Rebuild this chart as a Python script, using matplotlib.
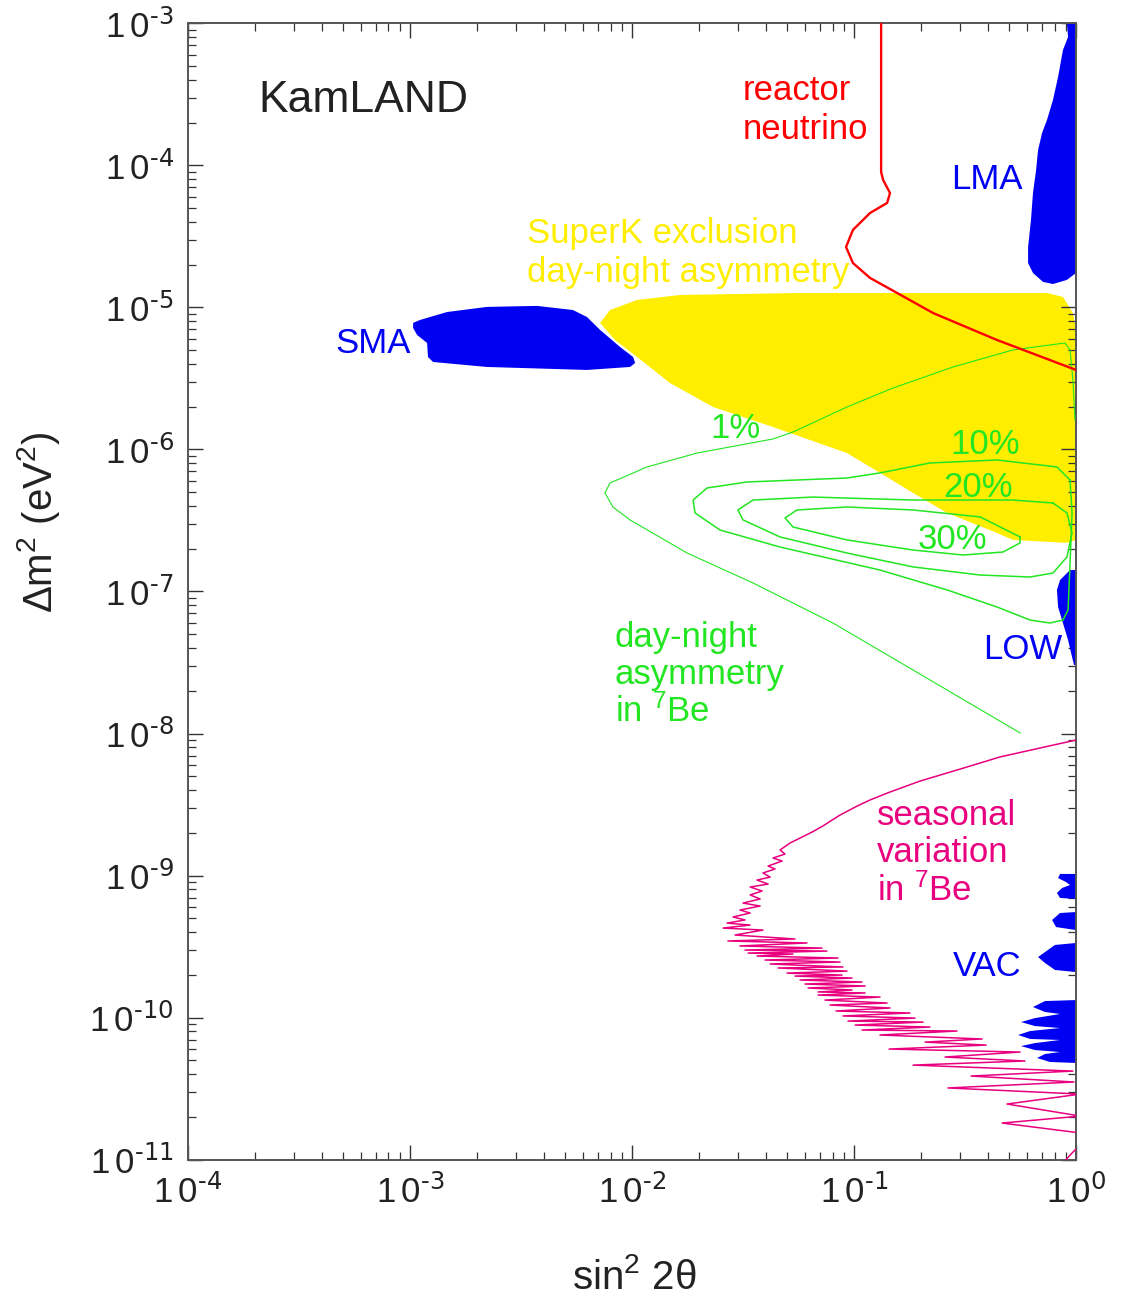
import numpy as np
import matplotlib.pyplot as plt

plt.rcParams['font.family'] = ['Liberation Sans', 'DejaVu Sans']
plt.rcParams['mathtext.default'] = 'regular'

# all shapes as (log10 sin^2 2theta, log10 dm^2) pairs
superk_excl = [(-2.144, -5.109), (-2.099, -5.018), (-1.977, -4.947), (-1.784, -4.912),
               (-1.243, -4.898), (-0.131, -4.898), (-0.059, -4.926), (-0.014, -5.039),
               (0.0, -5.158), (0.0, -6.637), (-0.041, -6.658), (-0.284, -6.637),
               (-0.356, -6.588), (-0.581, -6.447), (-0.734, -6.306), (-0.883, -6.165),
               (-1.032, -6.025), (-1.365, -5.842), (-1.635, -5.701), (-1.829, -5.532),
               (-1.977, -5.349), (-2.077, -5.229)]

sma = [(-2.986, -5.109), (-2.955, -5.088), (-2.833, -5.032), (-2.653, -4.996),
       (-2.428, -4.989), (-2.266, -5.018), (-2.203, -5.067), (-2.144, -5.158),
       (-2.054, -5.278), (-1.995, -5.349), (-1.986, -5.391), (-2.009, -5.419),
       (-2.203, -5.440), (-2.653, -5.419), (-2.896, -5.384), (-2.919, -5.349),
       (-2.923, -5.250), (-2.968, -5.194), (-2.986, -5.144)]

lma = [(-0.041, -3.0), (-0.036, -3.095), (-0.059, -3.187), (-0.081, -3.377),
       (-0.104, -3.539), (-0.131, -3.680), (-0.153, -3.771), (-0.171, -3.891),
       (-0.180, -4.032), (-0.194, -4.194), (-0.203, -4.384), (-0.216, -4.574),
       (-0.216, -4.687), (-0.194, -4.757), (-0.149, -4.820), (-0.104, -4.835),
       (-0.041, -4.806), (0.0, -4.757), (0.0, -3.0)]

low = [(-0.027, -6.849), (-0.072, -6.919), (-0.086, -6.989), (-0.081, -7.109),
       (-0.059, -7.222), (-0.036, -7.342), (-0.018, -7.461), (-0.009, -7.518),
       (0.0, -7.518), (0.0, -6.849)]

vac = [
    [(0.0, -8.989), (-0.072, -8.989), (-0.081, -9.018), (-0.045, -9.046), (-0.027, -9.067),
     (-0.063, -9.088), (-0.086, -9.123), (-0.072, -9.158), (0.0, -9.165)],
    [(0.0, -9.257), (-0.072, -9.264), (-0.108, -9.313), (-0.090, -9.363), (0.0, -9.384)],
    [(0.0, -9.475), (-0.095, -9.489), (-0.140, -9.539), (-0.171, -9.574), (-0.140, -9.616),
     (-0.095, -9.665), (0.0, -9.680)],
    [(0.0, -9.877), (-0.140, -9.884), (-0.194, -9.926), (-0.140, -9.961), (-0.072, -9.975),
     (-0.185, -10.004), (-0.248, -10.032), (-0.185, -10.060), (-0.072, -10.074),
     (-0.207, -10.095), (-0.261, -10.123), (-0.207, -10.151), (-0.072, -10.158),
     (-0.185, -10.180), (-0.248, -10.201), (-0.185, -10.229), (-0.072, -10.243),
     (-0.140, -10.257), (-0.176, -10.285), (-0.117, -10.313), (0.0, -10.320)],
]

reactor = [(-0.878, -3.0), (-0.878, -4.046), (-0.869, -4.102), (-0.838, -4.194),
           (-0.851, -4.264), (-0.928, -4.335), (-1.005, -4.454), (-1.036, -4.574),
           (-1.005, -4.687), (-0.928, -4.792), (-0.806, -4.898), (-0.644, -5.039),
           (-0.464, -5.158), (-0.356, -5.229), (0.0, -5.44)]

dn_1 = [(-0.005, -5.792), (-0.014, -5.511), (-0.027, -5.299), (-0.050, -5.250),
        (-0.284, -5.299), (-0.554, -5.419), (-0.824, -5.567), (-1.032, -5.701),
        (-1.275, -5.877), (-1.365, -5.926), (-1.707, -6.025), (-1.932, -6.123),
        (-2.099, -6.236), (-2.122, -6.306), (-2.086, -6.405), (-2.009, -6.496),
        (-1.752, -6.729), (-1.455, -6.940), (-1.095, -7.222), (-0.734, -7.553),
        (-0.252, -7.996)]
dn_10 = [(-0.027, -6.215), (-0.086, -6.123), (-0.356, -6.074), (-0.658, -6.095),
         (-0.883, -6.165), (-1.032, -6.201), (-1.482, -6.229), (-1.662, -6.271),
         (-1.725, -6.356), (-1.716, -6.447), (-1.604, -6.567), (-1.333, -6.687),
         (-0.883, -6.849), (-0.581, -6.989), (-0.356, -7.109), (-0.207, -7.201),
         (-0.117, -7.222), (-0.059, -7.201), (-0.036, -7.130), (-0.027, -6.799),
         (-0.018, -6.447), (-0.027, -6.215)]
dn_20 = [(-0.104, -6.377), (-0.284, -6.356), (-0.734, -6.356), (-1.185, -6.335),
         (-1.455, -6.356), (-1.523, -6.426), (-1.500, -6.496), (-1.333, -6.616),
         (-1.032, -6.729), (-0.734, -6.827), (-0.432, -6.884), (-0.207, -6.898),
         (-0.104, -6.870), (-0.041, -6.757), (-0.018, -6.588), (-0.041, -6.447),
         (-0.104, -6.377)]
dn_30 = [(-0.252, -6.616), (-0.432, -6.475), (-0.734, -6.426), (-1.032, -6.405),
         (-1.257, -6.426), (-1.311, -6.482), (-1.275, -6.546), (-1.032, -6.637),
         (-0.734, -6.708), (-0.509, -6.743), (-0.329, -6.722), (-0.252, -6.658),
         (-0.252, -6.616)]

seasonal_lx = [0.0, -0.162, -0.342, -0.536, -0.703, -0.838, -0.928, -0.986, -1.063, -1.140,
               -1.189, -1.243, -1.288, -1.333, -1.311, -1.365, -1.324, -1.387, -1.356, -1.410,
               -1.378, -1.437, -1.387, -1.468, -1.414, -1.468, -1.423, -1.500, -1.423, -1.514,
               -1.468, -1.545, -1.491, -1.572, -1.468,
               -1.590, -1.410, -1.536, -1.266, -1.568, -1.212, -1.514, -1.144, -1.491, -1.122,
               -1.477, -1.275, -1.437, -1.072, -1.401, -1.063, -1.378, -1.050, -1.342, -1.032,
               -1.302, -1.054, -1.266, -1.009, -1.243, -0.964, -1.221, -0.950, -1.207, -1.009,
               -1.162, -0.950, -1.162, -0.883, -1.131, -0.851, -1.108, -0.838, -1.081, -0.748,
               -1.050, -0.725, -1.027, -0.689, -0.995, -0.658, -0.964, -0.536, -0.883, -0.423,
               -0.680, -0.405, -0.842, -0.252, -0.590, -0.230, -0.734, -0.014, -0.473, -0.009,
               -0.577, 0.02, -0.311, 0.02, -0.333, 0.02, 0.018, -0.018, -0.045]
seasonal_ly = [-8.046, -8.102, -8.165, -8.257, -8.335, -8.412, -8.468, -8.511, -8.574, -8.651,
               -8.694, -8.736, -8.771, -8.820, -8.849, -8.877, -8.898, -8.933, -8.954, -8.982,
               -9.011, -9.032, -9.060, -9.081, -9.109, -9.137, -9.165, -9.194, -9.215, -9.243,
               -9.264, -9.292, -9.313, -9.335, -9.349,
               -9.370, -9.384, -9.419, -9.447, -9.461, -9.475, -9.496, -9.511, -9.525, -9.532,
               -9.546, -9.553, -9.567, -9.581, -9.595, -9.609, -9.623, -9.644, -9.651, -9.673,
               -9.687, -9.701, -9.708, -9.722, -9.736, -9.750, -9.764, -9.778, -9.792, -9.806,
               -9.820, -9.827, -9.842, -9.856, -9.877, -9.898, -9.912, -9.933, -9.954, -9.968,
               -9.989, -10.004, -10.025, -10.032, -10.053, -10.067, -10.088, -10.095, -10.123, -10.151,
               -10.173, -10.194, -10.222, -10.243, -10.278, -10.306, -10.335, -10.377, -10.412, -10.454,
               -10.496, -10.539, -10.609, -10.694, -10.743, -10.813, -10.898, -10.954, -11.0]

xtick_exps = [-4, -3, -2, -1, 0]
ytick_exps = list(range(-11, -2))

BLUE = '#0000f2'
YELLOW = '#ffee00'
GREEN = '#22e622'
RED = '#ff0000'
PINK = '#e8007f'


def lin(pts):
    a = 10.0 ** np.array(pts)
    return a[:, 0], a[:, 1]


def dec_label(e):
    # the original uses a plain hyphen in the exponent, not a minus sign
    return r'1$\,$0$^{\text{%d}}$' % e


fig = plt.figure(figsize=(11.21, 12.95), dpi=100)
ax = fig.add_axes([0.1677, 0.1046, 0.7922, 0.8773])
ax.set_xscale('log')
ax.set_yscale('log')

ax.fill(*lin(superk_excl), color=YELLOW, lw=0, zorder=1)
ax.fill(*lin(sma), color=BLUE, lw=0, zorder=2)
ax.fill(*lin(lma), color=BLUE, lw=0, zorder=2)
ax.fill(*lin(low), color=BLUE, lw=0, zorder=2)
for blob in vac:
    ax.fill(*lin(blob), color=BLUE, lw=0, zorder=2)

ax.plot(*lin(dn_1), color=GREEN, lw=0.8, zorder=3)
for c in (dn_10, dn_20, dn_30):
    ax.plot(*lin(c), color=GREEN, lw=1.1, zorder=3)
ax.plot(*lin(reactor), color=RED, lw=1.7, zorder=4)
ax.plot(10.0 ** np.array(seasonal_lx), 10.0 ** np.array(seasonal_ly), color=PINK, lw=1.1, zorder=3)

ax.set_xlim(1e-4, 1)
ax.set_ylim(1e-11, 1e-3)

# labels
ax.text(10 ** -3.685, 10 ** -3.54, 'KamLAND', fontsize=32, color='#222222', ha='left', va='center')
ax.text(10 ** -1.5, 10 ** -3.61, 'reactor\nneutrino', fontsize=25, color=RED, ha='left', va='center',
        linespacing=1.2)
ax.text(10 ** -0.563, 10 ** -4.10, 'LMA', fontsize=25, color=BLUE, ha='left', va='center')
ax.text(10 ** -2.473, 10 ** -4.616, 'SuperK exclusion\nday-night asymmetry', fontsize=25, color=YELLOW,
        ha='left', va='center', linespacing=1.2)
ax.text(10 ** -3.338, 10 ** -5.257, 'SMA', fontsize=25, color=BLUE, ha='left', va='center')
ax.text(10 ** -1.649, 10 ** -5.849, '1%', fontsize=25, color=GREEN, ha='left', va='center')
ax.text(10 ** -0.568, 10 ** -5.968, '10%', fontsize=25, color=GREEN, ha='left', va='center')
ax.text(10 ** -0.599, 10 ** -6.271, '20%', fontsize=25, color=GREEN, ha='left', va='center')
ax.text(10 ** -0.712, 10 ** -6.637, '30%', fontsize=25, color=GREEN, ha='left', va='center')
ax.text(10 ** -2.077, 10 ** -7.588, 'day-night\nasymmetry\nin $^{7}$Be', fontsize=25, color=GREEN,
        ha='left', va='center', linespacing=1.15)
ax.text(10 ** -0.419, 10 ** -7.405, 'LOW', fontsize=25, color=BLUE, ha='left', va='center')
ax.text(10 ** -0.896, 10 ** -8.842, 'seasonal\nvariation\nin $^{7}$Be', fontsize=25, color=PINK,
        ha='left', va='center', linespacing=1.15)
ax.text(10 ** -0.554, 10 ** -9.644, 'VAC', fontsize=25, color=BLUE, ha='left', va='center')

# axes styling
ax.set_xticks([10.0 ** e for e in xtick_exps], labels=[dec_label(e) for e in xtick_exps])
ax.set_yticks([10.0 ** e for e in ytick_exps], labels=[dec_label(e) for e in ytick_exps])
ax.tick_params(which='both', direction='in', top=True, right=True, color='#333333', labelcolor='#222222')
ax.tick_params(which='major', length=11, width=1.0, labelsize=25)
ax.tick_params(axis='x', which='major', pad=11)
ax.tick_params(axis='y', which='major', pad=10)
ax.tick_params(which='minor', length=5.5, width=0.9)
for s in ax.spines.values():
    s.set_color('#555555')
    s.set_linewidth(1.4)

ax.set_xlabel(r'sin$^2$ 2$\theta$', fontsize=29, color='#222222')
ax.set_ylabel(r'$\Delta$m$^2$ (eV$^2$)', fontsize=29, color='#222222')
ax.xaxis.set_label_coords(0.503, -0.087)
ax.yaxis.set_label_coords(-0.142, 0.561)

fig.savefig('out.png', dpi=100)
